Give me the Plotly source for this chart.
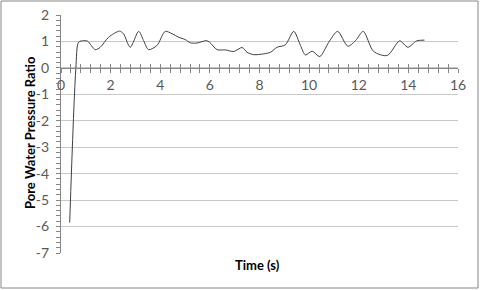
import plotly.graph_objects as go

time_s = [0.35, 0.6, 0.71, 0.91, 1.07, 1.38, 1.58, 1.92, 2.36, 2.52, 2.79, 3.13, 3.33, 3.53, 3.87,
          4.2, 4.48, 4.74, 5.01, 5.21, 5.48, 5.86, 5.99, 6.29, 6.63, 6.96, 7.3, 7.5, 7.77, 8.17,
          8.44, 8.71, 9.04, 9.38, 9.65, 9.85, 10.12, 10.43, 10.79, 11.15, 11.56, 11.87, 12.18,
          12.6, 13.15, 13.65, 13.98, 14.33, 14.65]
pwp_ratio = [-5.85, 0.0, 0.97, 1.03, 1.01, 0.69, 0.78, 1.16, 1.39, 1.29, 0.78, 1.38, 1.03, 0.69, 0.85,
             1.38, 1.29, 1.16, 1.07, 0.95, 0.94, 1.03, 0.97, 0.69, 0.68, 0.62, 0.77, 0.59, 0.5, 0.53,
             0.59, 0.78, 0.87, 1.38, 0.85, 0.49, 0.63, 0.43, 0.97, 1.38, 0.82, 1.03, 1.38,
             0.62, 0.47, 1.02, 0.78, 1.02, 1.05]
y_tick_values = [-7, -6, -5, -4, -3, -2, -1, 0, 1, 2]
y_tick_labels = ["-7", "-6", "-5", "-4", "-3", "-2", "-1", "0", "1", "2"]

W, H = 480, 290
L, R, T, B = 61, 22, 15, 37
pw, ph = W - L - R, H - T - B
font = "Lato"
axis_grey = "#868686"
label_grey = "#595959"


def px_x(px):
    return (px - L) / pw


def px_y(py):
    return (H - B - py) / ph


fig = go.Figure()
fig.add_trace(go.Scatter(x=time_s, y=pwp_ratio, mode="lines",
                         line=dict(color="#404040", width=1, shape="spline", smoothing=0.8),
                         hoverinfo="skip"))
# invisible copy to carry the inward half of the crossing x ticks
fig.add_trace(go.Scatter(x=time_s, y=pwp_ratio, mode="lines", xaxis="x2", opacity=0,
                         line=dict(width=0), hoverinfo="skip"))

fig.update_layout(
    width=W, height=H, margin=dict(l=L, r=R, t=T, b=B, autoexpand=False),
    paper_bgcolor="white", plot_bgcolor="white", showlegend=False,
    font=dict(family=font, size=13, color=label_grey),
    xaxis=dict(range=[0, 16], dtick=2, anchor="free", position=7/9, automargin=False,
               showline=True, linecolor=axis_grey, linewidth=1,
               ticks="outside", ticklen=4, tickcolor=axis_grey,
               minor=dict(dtick=0.4, ticks="outside", ticklen=4, tickcolor=axis_grey),
               showgrid=False, zeroline=False, tickfont=dict(size=14, color=label_grey)),
    xaxis2=dict(range=[0, 16], dtick=2, anchor="free", position=7/9, overlaying="x",
                side="bottom", automargin=False, showline=False, showticklabels=False,
                ticks="inside", ticklen=4, tickcolor=axis_grey,
                minor=dict(dtick=0.4, ticks="inside", ticklen=4, tickcolor=axis_grey),
                showgrid=False, zeroline=False),
    yaxis=dict(range=[-7, 2], tickmode="array", tickvals=y_tick_values, ticktext=y_tick_labels,
               showline=True, linecolor=axis_grey, linewidth=1,
               automargin=False, ticklabelstandoff=4,
               ticks="outside", ticklen=4, tickcolor=axis_grey,
               minor=dict(dtick=0.2, ticks="outside", ticklen=4, tickcolor=axis_grey),
               showgrid=True, gridcolor="#C8C8C8", gridwidth=1, zeroline=False,
               tickfont=dict(size=14, color=label_grey)),
)

# outer frame
fig.add_shape(type="rect", xref="paper", yref="paper",
              x0=px_x(1), x1=px_x(478), y0=px_y(288), y1=px_y(1),
              line=dict(color=axis_grey, width=1))

fig.add_annotation(text="<b>Time (s)</b>", xref="paper", yref="paper",
                   x=px_x(257), y=px_y(265), xanchor="center", yanchor="middle",
                   showarrow=False, font=dict(size=13, color="black", family=font))
fig.add_annotation(text="<b>Pore Water Pressure Ratio</b>", xref="paper", yref="paper",
                   x=px_x(30), y=px_y(133), xanchor="center", yanchor="middle", textangle=-90,
                   showarrow=False, font=dict(size=13, color="black", family=font))

fig.write_html("out.html", config={"displayModeBar": False},
               post_script="document.body.style.margin='0';document.body.style.overflow='hidden';")
